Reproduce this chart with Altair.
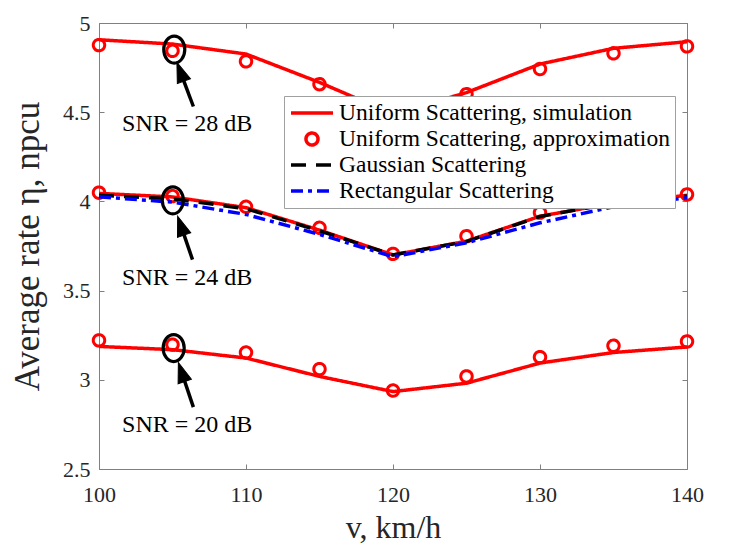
import math
import altair as alt
import pandas as pd

# ---------------- data ----------------
v_kmh = [100, 105, 110, 115, 120, 125, 130, 135, 140]

sim_28 = [4.906, 4.882, 4.826, 4.667, 4.49, 4.61, 4.77, 4.858, 4.895]
apx_28 = [4.876, 4.844, 4.785, 4.657, 4.50, 4.601, 4.742, 4.83, 4.869]

sim_24 = [4.045, 4.025, 3.965, 3.839, 3.700, 3.777, 3.917, 3.99, 4.034]
apx_24 = [4.049, 4.030, 3.970, 3.852, 3.706, 3.805, 3.937, 4.01, 4.039]
gau_24 = [4.034, 4.015, 3.959, 3.835, 3.700, 3.775, 3.915, 3.99, 4.030]
rec_24 = [4.026, 3.996, 3.927, 3.815, 3.690, 3.768, 3.880, 3.97, 4.020]

sim_20 = [3.187, 3.169, 3.122, 3.019, 2.934, 2.981, 3.094, 3.153, 3.184]
apx_20 = [3.221, 3.197, 3.153, 3.060, 2.940, 3.019, 3.127, 3.191, 3.215]

S_SIM = "Uniform Scattering, simulation"
S_APX = "Uniform Scattering, approximation"
S_GAU = "Gaussian Scattering"
S_REC = "Rectangular Scattering"
series_order = [S_SIM, S_APX, S_GAU, S_REC]

x_ticks = [100, 110, 120, 130, 140]
y_ticks = [2.5, 3, 3.5, 4, 4.5, 5]

# annotations
snr_labels = ["SNR = 28 dB", "SNR = 24 dB", "SNR = 20 dB"]
label_x = [106.0, 106.0, 106.0]
label_y = [4.395, 3.534, 2.708]
ellipse_x = [105.12, 105.02, 105.08]
ellipse_y = [4.851, 4.006, 3.178]
tail_x = [106.42, 106.36, 106.42]
tail_y = [4.532, 3.674, 2.847]
tip_x = [105.30, 105.35, 105.40]
tip_y = [4.779, 3.917, 3.097]

# ---------------- styling / layout ----------------
W, H = 588, 446
X_DOM = [100, 140]
Y_DOM = [2.5, 5]
SERIF = "Liberation Serif"
AXIS_GRAY = "#808080"
TXT = "#262626"
RED, BLACK, BLUE = "#ff0000", "#000000", "#0000ff"
colors = [RED, RED, BLACK, BLUE]
dashes = [[1, 0], [1, 0], [15, 10], [12, 5, 4, 5]]
LW = 3.5

LINE_PATH = "M-1,0L1,0"
CIRCLE_PATH = "M-0.286,0A0.286,0.286,0,1,0,0.286,0A0.286,0.286,0,1,0,-0.286,0Z"
ELLIPSE_PATH = "M-0.78,0A0.78,1,0,1,0,0.78,0A0.78,1,0,1,0,-0.78,0Z"
HEAD_PATH = "M0,-1L0.7,1L-0.7,1Z"

rows = []
for snr, sim, apx in [(28, sim_28, apx_28), (24, sim_24, apx_24), (20, sim_20, apx_20)]:
    for v, a, b in zip(v_kmh, sim, apx):
        rows.append({"v": v, "eta": a, "series": S_SIM, "snr": snr})
        rows.append({"v": v, "eta": b, "series": S_APX, "snr": snr})
for v, g, r in zip(v_kmh, gau_24, rec_24):
    rows.append({"v": v, "eta": g, "series": S_GAU, "snr": 24})
    rows.append({"v": v, "eta": r, "series": S_REC, "snr": 24})
df = pd.DataFrame(rows)

# arrowheads: centre a bit behind the tip, rotated along the arrow
px_x = W / (X_DOM[1] - X_DOM[0])
px_y = H / (Y_DOM[1] - Y_DOM[0])
HEAD_LEN = 20
arr_rows = []
for tx, ty, hx, hy in zip(tail_x, tail_y, tip_x, tip_y):
    dx = (tx - hx) * px_x
    dy = -(ty - hy) * px_y
    L = math.hypot(dx, dy)
    ux, uy = dx / L, dy / L
    cx = hx + (HEAD_LEN / 2) * ux / px_x
    cy = hy - (HEAD_LEN / 2) * uy / px_y
    ang = math.degrees(math.atan2(-ux, uy)) % 360
    arr_rows.append({"x": tx, "y": ty, "x2": cx, "y2": cy, "hx": cx, "hy": cy, "ang": ang})
arr_df = pd.DataFrame(arr_rows)
ell_df = pd.DataFrame({"x": ellipse_x, "y": ellipse_y})
lab_df = pd.DataFrame({"x": label_x, "y": label_y, "t": snr_labels})

xs = alt.Scale(domain=X_DOM, nice=False, zero=False)
ys = alt.Scale(domain=Y_DOM, nice=False, zero=False)

axis_x_main = alt.Axis(
    orient="top", offset=-H, values=x_ticks, format="d", grid=False,
    tickSize=5, tickColor=AXIS_GRAY, tickWidth=1, domainColor=AXIS_GRAY, domainWidth=1,
    labelFont=SERIF, labelFontSize=22, labelColor=TXT, labelAlign="center",
    labelBaseline="alphabetic", labelPadding=-37, labelFlush=False, labelOverlap=False,
    title="v, km/h", titleFont=SERIF, titleFontSize=32, titleFontWeight="normal",
    titleColor=TXT, titleX=W / 2, titleY=68, titleAlign="center", titleBaseline="alphabetic",
)
axis_y_main = alt.Axis(
    orient="right", offset=-W, values=y_ticks, format="~g", grid=False,
    tickSize=5, tickColor=AXIS_GRAY, tickWidth=1, domainColor=AXIS_GRAY, domainWidth=1,
    labelFont=SERIF, labelFontSize=22, labelColor=TXT, labelAlign="right",
    labelBaseline="middle", labelPadding=-14, labelFlush=False, labelOverlap=False,
    title="Average rate η, npcu", titleFont=SERIF, titleFontSize=35, titleFontWeight="normal",
    titleColor=TXT, titleAngle=270, titleX=-72, titleY=H / 2, titleAlign="center",
    titleBaseline="middle",
)
axis_x_box = alt.Axis(
    orient="bottom", offset=-H, values=x_ticks, grid=False, labels=False, title=None,
    tickSize=5, tickColor=AXIS_GRAY, tickWidth=1, domainColor=AXIS_GRAY, domainWidth=1,
)
axis_y_box = alt.Axis(
    orient="left", offset=-W, values=y_ticks, grid=False, labels=False, title=None,
    tickSize=5, tickColor=AXIS_GRAY, tickWidth=1, domainColor=AXIS_GRAY, domainWidth=1,
)

legend = alt.Legend(
    title=None, orient="none", legendX=185, legendY=73,
    fillColor="white", strokeColor="#a0a0a0", padding=5,
    labelFont=SERIF, labelFontSize=23.5, labelColor="black", labelLimit=500,
    labelOffset=4, symbolSize=1764, symbolStrokeWidth=LW, rowPadding=2, clipHeight=24,
)

color_scale = alt.Scale(domain=series_order, range=colors)
dash_scale = alt.Scale(domain=series_order, range=dashes)
shape_scale = alt.Scale(domain=series_order, range=[LINE_PATH, CIRCLE_PATH, LINE_PATH, LINE_PATH])


def xy(xf="v", yf="eta", xaxis=None, yaxis=None):
    return dict(
        x=alt.X(f"{xf}:Q", scale=xs, axis=xaxis),
        y=alt.Y(f"{yf}:Q", scale=ys, axis=yaxis),
    )


base = alt.Chart(df)


def line_layer(series, idx, **axes):
    return base.transform_filter(alt.datum.series == series).mark_line(
        strokeWidth=LW, color=colors[idx], strokeDash=dashes[idx]
    ).encode(**xy(**axes), detail="snr:N")


sim_layer = line_layer(S_SIM, 0, xaxis=axis_x_main, yaxis=axis_y_main)
gau_layer = line_layer(S_GAU, 2)
rec_layer = line_layer(S_REC, 3)

apx_layer = base.transform_filter(alt.datum.series == S_APX).mark_point(
    filled=False, strokeWidth=3, size=1600, opacity=1
).encode(
    **xy(xaxis=axis_x_box, yaxis=axis_y_box),
    color=alt.Color("series:N", scale=color_scale, legend=legend),
    shape=alt.Shape("series:N", scale=shape_scale, legend=legend),
    strokeDash=alt.StrokeDash("series:N", scale=dash_scale, legend=legend),
)

ell_layer = alt.Chart(ell_df).mark_point(
    shape=ELLIPSE_PATH, size=729, filled=False, stroke="black", strokeWidth=3.2, opacity=1
).encode(**xy("x", "y"))

arrow_layer = alt.Chart(arr_df).mark_rule(color="black", strokeWidth=3.5).encode(
    **xy("x", "y"),
    x2="x2:Q",
    y2="y2:Q",
)

head_layer = alt.Chart(arr_df).mark_point(
    shape=HEAD_PATH, size=HEAD_LEN ** 2, filled=True, fill="black", stroke="black",
    strokeWidth=1, opacity=1
).encode(
    **xy("hx", "hy"),
    angle=alt.Angle("ang:Q", scale=None),
)

text_layer = alt.Chart(lab_df).mark_text(
    font=SERIF, fontSize=24, align="center", baseline="alphabetic", color="black"
).encode(**xy("x", "y"), text="t:N")

chart = (
    alt.layer(sim_layer, apx_layer, gau_layer, rec_layer, ell_layer, arrow_layer, head_layer, text_layer)
    .resolve_scale(x="independent", y="independent")
    .properties(
        width=W, height=H,
        autosize=alt.AutoSizeParams(type="none"),
        padding={"left": 91, "top": 15, "right": 30, "bottom": 80},
    )
    .configure_view(stroke=None)
    .configure(background="white")
)

chart.save("out.html", embed_options={"renderer": "svg", "actions": False})
